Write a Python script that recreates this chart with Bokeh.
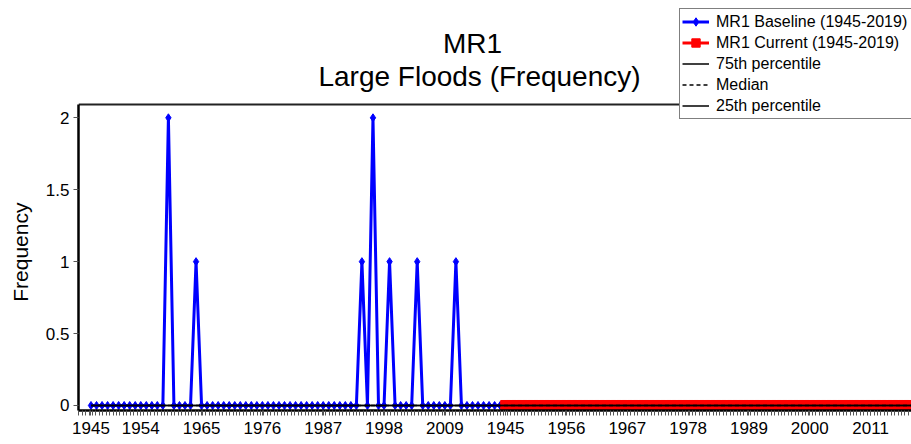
import numpy as np
from bokeh.plotting import figure
from bokeh.models import Range1d, FixedTicker, Legend, LegendItem, Label
from bokeh.embed import file_html
from bokeh.resources import INLINE

# ---- data -------------------------------------------------------------
years = list(range(1945, 2020))

# Large-flood counts per water year, baseline record (1945-2019)
baseline_freq = [
    0, 0, 0, 0, 0, 0, 0, 0, 0, 0,   # 1945-1954
    0, 0, 0, 0, 2, 0, 0, 0, 0, 1,   # 1955-1964
    0, 0, 0, 0, 0, 0, 0, 0, 0, 0,   # 1965-1974
    0, 0, 0, 0, 0, 0, 0, 0, 0, 0,   # 1975-1984
    0, 0, 0, 0, 0, 0, 0, 0, 0, 1,   # 1985-1994
    0, 2, 0, 0, 1, 0, 0, 0, 0, 1,   # 1995-2004
    0, 0, 0, 0, 0, 0, 1, 0, 0, 0,   # 2005-2014
    0, 0, 0, 0, 0,                  # 2015-2019
]

# Large-flood counts per water year, current record (1945-2019)
current_freq = [
    0, 0, 0, 0, 0, 0, 0, 0, 0, 0,   # 1945-1954
    0, 0, 0, 0, 0, 0, 0, 0, 0, 0,   # 1955-1964
    0, 0, 0, 0, 0, 0, 0, 0, 0, 0,   # 1965-1974
    0, 0, 0, 0, 0, 0, 0, 0, 0, 0,   # 1975-1984
    0, 0, 0, 0, 0, 0, 0, 0, 0, 0,   # 1985-1994
    0, 0, 0, 0, 0, 0, 0, 0, 0, 0,   # 1995-2004
    0, 0, 0, 0, 0, 0, 0, 0, 0, 0,   # 2005-2014
    0, 0, 0, 0, 0,                  # 2015-2019
]

# Percentile reference levels of the frequency record
pct75 = 0.0
pct50 = 0.0
pct25 = 0.0

y_ticks = [0, 0.5, 1, 1.5, 2]
y_tick_labels = ["0", "0.5", "1", "1.5", "2"]

# ---- the two periods share one index axis -------------------------------
n = len(years)
x_base = np.arange(n)
x_cur = np.arange(n) + n
all_years = years + years

FONT = "Liberation Sans"

# value axis limits of the boxed plotting area; the frame itself runs up to
# the top of the canvas so that the title and legend can sit above the box
Y_LO, Y_HI = -0.0348, 2.0925
X_LO, X_HI = -2.26, 148.4

p = figure(
    width=911, height=444,
    x_range=Range1d(X_LO, X_HI),
    y_range=Range1d(Y_LO, 2.8154),
    output_backend="svg", toolbar_location=None,
    min_border_left=78, min_border_right=0,
    min_border_top=0, min_border_bottom=34,
    background_fill_color="white", border_fill_color="white",
)
p.outline_line_color = None
p.xgrid.visible = False
p.ygrid.visible = False

# top edge of the plotting box
p.line([X_LO, X_HI], [Y_HI, Y_HI], line_color="#222222", line_width=2)

# series
b_line = p.line(x_base, baseline_freq, line_color="#0000FF", line_width=3)
b_mark = p.scatter(x_base, baseline_freq, marker="diamond", size=8,
                   fill_color="#0000FF", line_color="#0000FF")
c_line = p.line(x_cur, current_freq, line_color="#FF0000", line_width=3)
c_mark = p.scatter(x_cur, current_freq, marker="square", size=10,
                   fill_color="#FF0000", line_color="#FF0000")

# percentile lines across both periods
x_all = [0, 2 * n - 1]
r75 = p.line(x_all, [pct75, pct75], line_color="black", line_width=1.5)
r50 = p.line(x_all, [pct50, pct50], line_color="black", line_width=1.5,
             line_dash="4 3")
r25 = p.line(x_all, [pct25, pct25], line_color="black", line_width=1.5)

# ---- axes ---------------------------------------------------------------
tick_idx = [0] + list(range(9, 2 * n, 11))
xax = p.xaxis[0]
xax.ticker = FixedTicker(ticks=tick_idx,
                         minor_ticks=list(np.arange(-2.2, 148.4, 0.62)))
xax.major_label_overrides = {int(i): str(all_years[i]) for i in tick_idx}
xax.axis_line_color = "black"
xax.axis_line_width = 2.5
xax.major_tick_in = 0
xax.major_tick_out = 5
xax.minor_tick_in = 0
xax.minor_tick_out = 5
xax.major_tick_line_color = "#555555"
xax.minor_tick_line_color = "#555555"
xax.major_label_standoff = 6
xax.major_label_text_font = FONT
xax.major_label_text_font_size = "17px"
xax.major_label_text_color = "black"

yax = p.yaxis[0]
yax.bounds = (Y_LO, Y_HI)
yax.ticker = FixedTicker(ticks=y_ticks, minor_ticks=[])
yax.major_label_overrides = dict(zip(y_ticks, y_tick_labels))
yax.axis_line_color = "black"
yax.axis_line_width = 2.5
yax.major_tick_in = 0
yax.major_tick_out = 5
yax.major_tick_line_color = "#555555"
yax.major_label_standoff = 4
yax.major_label_text_font = FONT
yax.major_label_text_font_size = "17px"
yax.major_label_text_color = "black"
# the label is centred on the whole frame; trailing no-break spaces move
# the visible word down to the middle of the boxed area
yax.axis_label = "Frequency" + "\u00a0" * 16
yax.axis_label_text_font = FONT
yax.axis_label_text_font_size = "21px"
yax.axis_label_text_font_style = "normal"
yax.axis_label_text_color = "black"
yax.axis_label_standoff = 11

# ---- title --------------------------------------------------------------
for txt, xx, yy in (("MR1", 394, 367), ("Large Floods (Frequency)", 401, 334)):
    p.add_layout(Label(x=xx, y=yy, x_units="screen", y_units="screen",
                       text=txt, text_align="center",
                       text_baseline="alphabetic", text_font=FONT,
                       text_font_size="28px", text_color="black"))

# ---- legend -------------------------------------------------------------
legend = Legend(
    items=[
        LegendItem(label="MR1 Baseline (1945-2019)", renderers=[b_line, b_mark]),
        LegendItem(label="MR1 Current (1945-2019)", renderers=[c_line, c_mark]),
        LegendItem(label="75th percentile", renderers=[r75]),
        LegendItem(label="Median", renderers=[r50]),
        LegendItem(label="25th percentile", renderers=[r25]),
    ],
    location=(601, 291),
    orientation="vertical",
    padding=2, spacing=0, margin=0,
    glyph_width=27, glyph_height=21, label_height=21, label_width=200,
    label_standoff=7,
    label_text_font=FONT, label_text_font_size="16px",
    label_text_color="black",
    border_line_color="black", border_line_width=1,
    background_fill_color="white", background_fill_alpha=1.0,
)
p.add_layout(legend, "center")

open("out.html", "w").write(file_html(p, INLINE))
